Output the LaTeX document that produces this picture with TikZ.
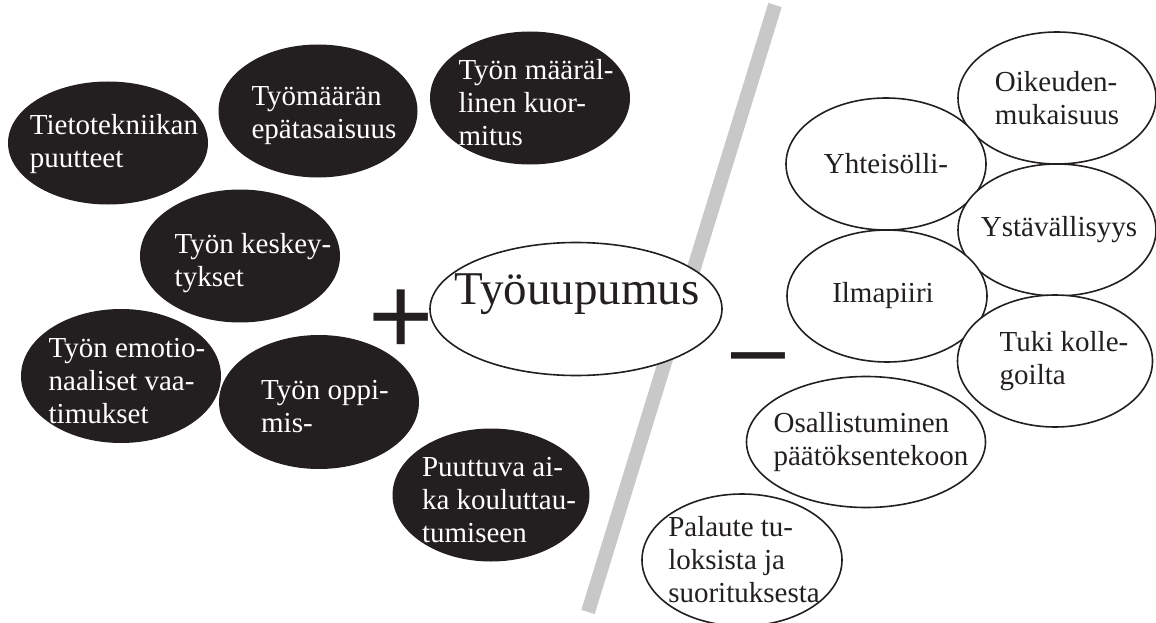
\documentclass[tikz,border=0pt]{standalone}
\usepackage{fontspec}
\setmainfont{Liberation Serif}
\setsansfont{Liberation Sans}
\usetikzlibrary{shapes.geometric}
\definecolor{ink}{RGB}{35,31,32}
\definecolor{slashgray}{RGB}{200,200,200}

\begin{document}
\begin{tikzpicture}[x=1pt,y=-1pt]
  \tikzset{every node/.style={inner sep=0pt}}

  \tikzset{blob/.style = {shape=ellipse,fill=ink,minimum width=200pt,minimum height=133pt}}

  \tikzset{ring/.style = {shape=ellipse,draw=ink,line width=1.6pt,fill=white,minimum width=200pt,minimum height=132pt}}

  \tikzset{wlabel/.style = {align=left,text=white,font=\fontsize{29}{33}\selectfont,xshift=6pt,yshift=-5pt}}

  \tikzset{blabel/.style = {align=left,text=ink,font=\fontsize{29}{33}\selectfont}}

  \tikzset{sign/.style = {anchor=base,text=ink,font=\sffamily\fontsize{112}{112}\selectfont}}

  \useasboundingbox (0,0) rectangle (1156,623);

  % slash
  \coordinate (slashtop) at (775,5);
  \coordinate (slashbot) at (588,612);
  \draw[draw=slashgray,line width=14pt] (slashtop) -- (slashbot);

  % left side
  \node[blob,minimum height=123pt] (tieto) at (108,143) {};
  \node[wlabel,yshift=4pt] (tieto-txt) at (tieto) {Tietotekniikan\\puutteet};

  \node[blob,minimum width=199pt] (tasa) at (318,111) {};
  \node[wlabel] (tasa-txt) at (tasa) {Työmäärän\\epätasaisuus};

  \node[blob] (kuorm) at (530,98) {};
  \node[wlabel] (kuorm-txt) at (kuorm) {Työn määräl-\\linen kuor-\\mitus};

  \node[blob] (keskey) at (240,256) {};
  \node[wlabel,xshift=7pt,yshift=-2pt] (keskey-txt) at (keskey) {Työn keskey-\\tykset};

  \node[blob,minimum height=134pt] (emotio) at (121,376) {};
  \node[wlabel] (emotio-txt) at (emotio) {Työn emotio-\\naaliset vaa-\\timukset};

  \node[blob,minimum height=134pt] (oppi) at (319,402) {};
  \node[wlabel] (oppi-txt) at (oppi) {Työn oppi-\\mis-};

  \node[blob,minimum width=197pt] (aika) at (491,495) {};
  \node[wlabel,xshift=2pt] (aika-txt) at (aika) {Puuttuva ai-\\ka koulutta\-u-\\tumiseen};

  % centre
  \node[sign] (plus) at (401,354) {+};

  \node[ring,minimum width=292pt,minimum height=133pt] (uupumus) at (576,309) {};
  \node[blabel,font=\fontsize{47}{52}\selectfont] (uupumus-txt) at (577,294) {Työuupumus};

  \node[sign,font=\sffamily\fontsize{97}{97}\selectfont] (minus) at (758,380) {–};

  % right side
  \node[ring,minimum width=198pt] (oikeus) at (1057,98) {};
  \node[blabel] (oikeus-txt) at (oikeus) {Oikeuden-\\mukaisuus};

  \node[ring] (yhteis) at (886,164) {};
  \node[blabel] (yhteis-txt) at (yhteis) {Yhteisölli-};

  \node[ring,minimum width=198pt] (ystav) at (1057,230) {};
  \node[blabel,xshift=2pt] (ystav-txt) at (ystav) {Ystävällisyys};

  \node[ring] (ilma) at (887,296) {};
  \node[blabel,xshift=-4pt] (ilma-txt) at (ilma) {Ilmapiiri};

  \node[ring,minimum width=195pt] (tuki) at (1055,361) {};
  \node[blabel,xshift=9pt] (tuki-txt) at (tuki) {Tuki kolle-\\goilta};

  \node[ring,minimum width=239pt,minimum height=131pt] (osall) at (866,442) {};
  \node[blabel,xshift=5pt] (osall-txt) at (osall) {Osallistuminen\\päätöksentekoon};

  \node[ring] (palaute) at (742,560) {};
  \node[blabel,xshift=2pt] (palaute-txt) at (palaute) {Palaute tu-\\loksista ja\\suorituksesta};
\end{tikzpicture}
\end{document}
